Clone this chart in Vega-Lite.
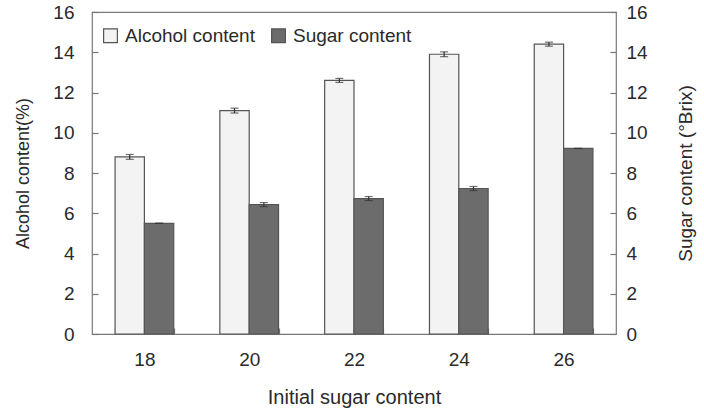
{
  "$schema": "https://vega.github.io/schema/vega-lite/v6.json",
  "width": 524,
  "height": 322,
  "autosize": {"type": "none"},
  "padding": {"left": 92, "top": 12, "right": 88, "bottom": 74},
  "background": "white",
  "config": {
    "font": "Liberation Sans",
    "view": {"stroke": "#777", "strokeWidth": 1.2},
    "axis": {
      "labelFont": "Liberation Sans",
      "titleFont": "Liberation Sans",
      "titleFontWeight": "normal",
      "labelColor": "#2a2a2a",
      "titleColor": "#2a2a2a",
      "tickColor": "#777",
      "tickWidth": 1.2,
      "domain": false,
      "grid": false
    }
  },
  "data": {
    "values": [
      {"initial": "18", "series": "Alcohol content", "value": 8.8, "lo": 8.68, "hi": 8.92},
      {"initial": "20", "series": "Alcohol content", "value": 11.1, "lo": 10.98, "hi": 11.22},
      {"initial": "22", "series": "Alcohol content", "value": 12.6, "lo": 12.5, "hi": 12.7},
      {"initial": "24", "series": "Alcohol content", "value": 13.9, "lo": 13.78, "hi": 14.02},
      {"initial": "26", "series": "Alcohol content", "value": 14.4, "lo": 14.3, "hi": 14.5},
      {"initial": "18", "series": "Sugar content", "value": 5.5, "lo": 5.5, "hi": 5.5},
      {"initial": "20", "series": "Sugar content", "value": 6.43, "lo": 6.33, "hi": 6.53},
      {"initial": "22", "series": "Sugar content", "value": 6.73, "lo": 6.63, "hi": 6.83},
      {"initial": "24", "series": "Sugar content", "value": 7.23, "lo": 7.13, "hi": 7.33},
      {"initial": "26", "series": "Sugar content", "value": 9.22, "lo": 9.22, "hi": 9.22}
    ]
  },
  "encoding": {
    "x": {
      "field": "initial",
      "type": "nominal",
      "scale": {"paddingInner": 0.44, "paddingOuter": 0.22},
      "axis": {
        "title": "Initial sugar content",
        "labelAngle": 0,
        "labelFontSize": 19,
        "titleFontSize": 20,
        "tickBand": "extent",
        "tickSize": -6,
        "labelPadding": 22,
        "titlePadding": 18
      }
    },
    "xOffset": {"field": "series", "type": "nominal", "scale": {"paddingInner": 0, "paddingOuter": 0}}
  },
  "layer": [
    {
      "mark": {"type": "bar", "stroke": "#555", "strokeWidth": 1.2},
      "encoding": {
        "y": {
          "field": "value",
          "type": "quantitative",
          "scale": {"domain": [0, 16]},
          "axis": {
            "orient": "left",
            "title": "Alcohol content(%)",
            "labelFontSize": 19,
            "titleFontSize": 18,
            "values": [0, 2, 4, 6, 8, 10, 12, 14, 16],
            "tickSize": -6,
            "labelPadding": 24,
            "titlePadding": 20
          }
        },
        "fill": {
          "field": "series",
          "type": "nominal",
          "scale": {"domain": ["Alcohol content", "Sugar content"], "range": ["#f3f3f3", "#6c6c6c"]},
          "legend": {
            "title": null,
            "orient": "none",
            "legendX": 9,
            "legendY": 14,
            "direction": "horizontal",
            "symbolType": "square",
            "symbolSize": 190,
            "symbolStrokeColor": "#555",
            "symbolStrokeWidth": 1.2,
            "labelFontSize": 19,
            "labelFont": "Liberation Sans",
            "labelColor": "#2a2a2a",
            "labelOffset": 5,
            "columnPadding": 14
          }
        }
      }
    },
    {
      "mark": {"type": "rule", "color": "#333", "strokeWidth": 1.2},
      "encoding": {
        "y": {
          "field": "lo",
          "type": "quantitative",
          "scale": {"domain": [0, 16]},
          "axis": {
            "orient": "right",
            "title": "Sugar content (°Brix)",
            "titleAngle": 270,
            "labelFontSize": 19,
            "titleFontSize": 19,
            "values": [0, 2, 4, 6, 8, 10, 12, 14, 16],
            "tickSize": -6,
            "labelPadding": 16,
            "titlePadding": 48
          }
        },
        "y2": {"field": "hi"}
      }
    },
    {
      "mark": {"type": "tick", "color": "#333", "size": 8, "thickness": 1.2},
      "encoding": {
        "y": {"field": "hi", "type": "quantitative", "scale": {"domain": [0, 16]}, "axis": null}
      }
    },
    {
      "mark": {"type": "tick", "color": "#333", "size": 8, "thickness": 1.2},
      "encoding": {
        "y": {"field": "lo", "type": "quantitative", "scale": {"domain": [0, 16]}, "axis": null}
      }
    }
  ],
  "resolve": {"scale": {"y": "independent"}}
}
